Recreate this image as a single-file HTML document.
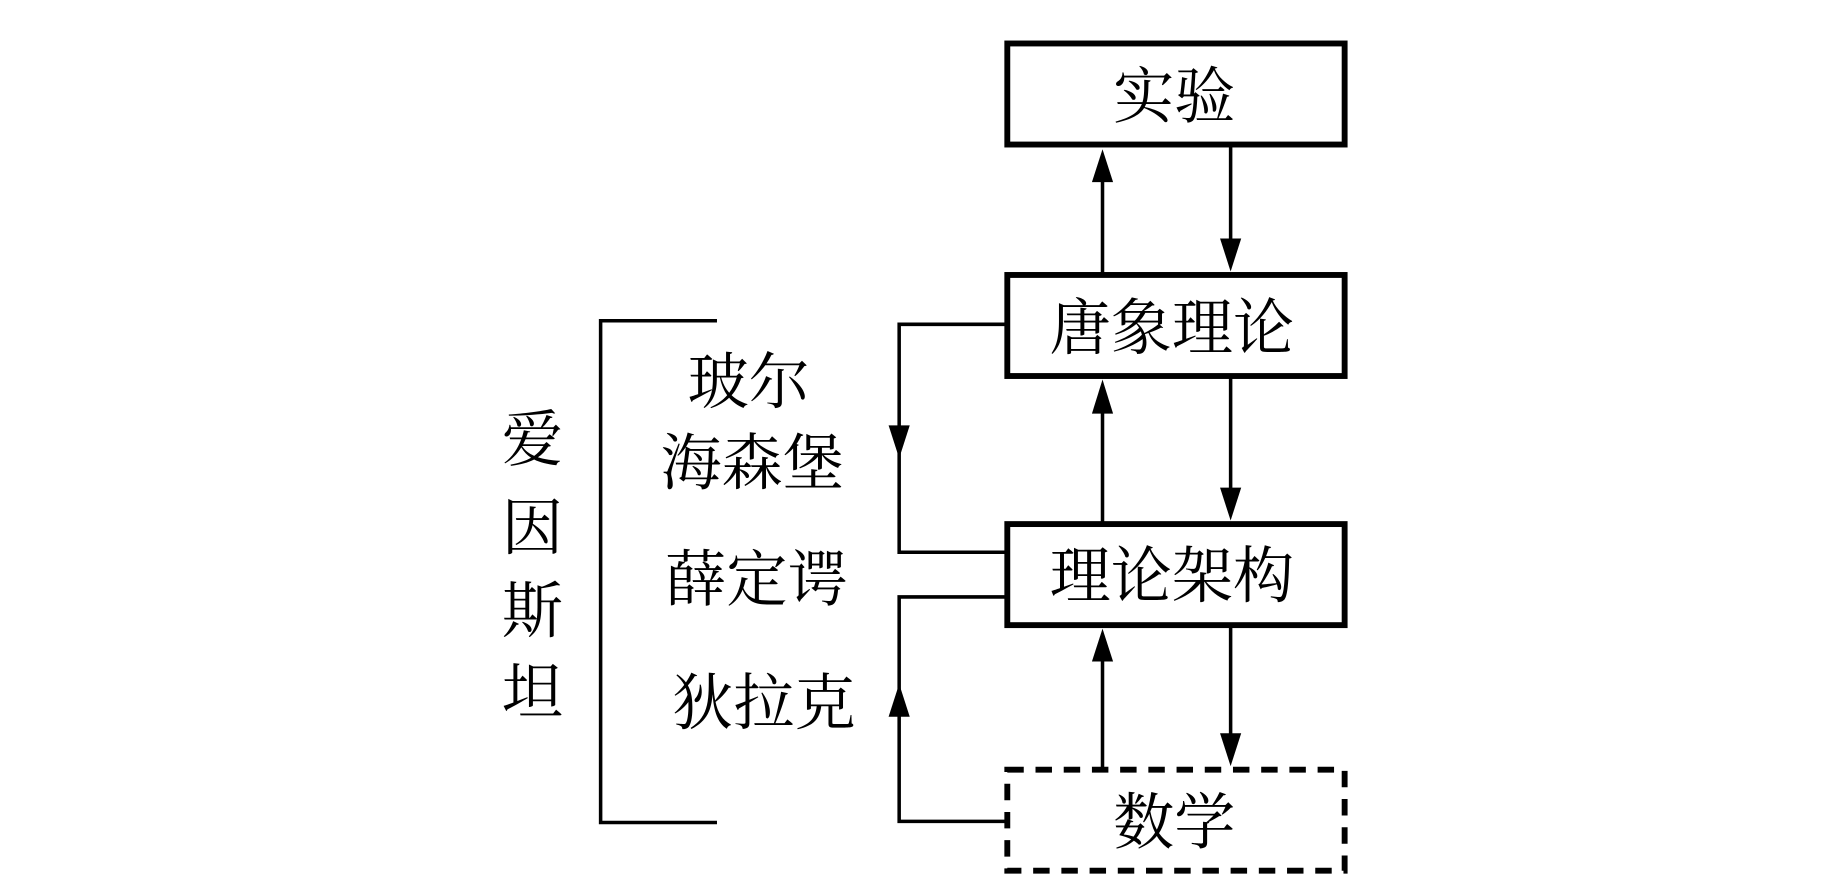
<!DOCTYPE html>
<html><head><meta charset="utf-8"><style>
html,body{margin:0;padding:0;background:#fff;}
svg{display:block;}
text{font-family:"Liberation Serif","Noto Serif CJK SC",serif;fill:#000;}
</style></head><body>
<svg width="1843" height="886" viewBox="0 0 1568 754" preserveAspectRatio="none" xmlns="http://www.w3.org/2000/svg">
<rect x="0" y="0" width="1568" height="754" fill="#fff"/>
<g fill="none" stroke="#000">
<rect x="857" y="37" width="287" height="86" stroke-width="5"/>
<rect x="857" y="234" width="287" height="86" stroke-width="5"/>
<rect x="857" y="446" width="287" height="86" stroke-width="5"/>
<rect x="857" y="655" width="287" height="86" stroke-width="5" stroke-dasharray="14,10"/>
<g stroke-width="3">
<line x1="938" y1="234" x2="938" y2="150"/>
<line x1="1047" y1="125" x2="1047" y2="210"/>
<line x1="938" y1="446" x2="938" y2="348"/>
<line x1="1047" y1="322" x2="1047" y2="420"/>
<line x1="938" y1="655" x2="938" y2="558"/>
<line x1="1047" y1="534" x2="1047" y2="630"/>
<polyline points="855,276 765,276 765,470 855,470"/>
<polyline points="855,508 765,508 765,699 855,699"/>
<polyline points="610,273 511,273 511,700 610,700"/>
</g>
</g>
<g fill="#000">
<polygon points="938,127 929,155 947,155"/>
<polygon points="1047,231 1038,203 1056,203"/>
<polygon points="938,323 929,352 947,352"/>
<polygon points="1047,443 1038,415 1056,415"/>
<polygon points="938,535 929,563 947,563"/>
<polygon points="1047,652 1038,624 1056,624"/>
<polygon points="765,390 756,362 774,362"/>
<polygon points="765,582 756,610 774,610"/>
</g>
<g font-size="52" text-anchor="middle">
<text x="999" y="100">实验</text>
<text x="997" y="297">唐象理论</text>
<text x="997" y="508">理论架构</text>
<text x="999" y="718">数学</text>
<text x="637" y="343">玻尔</text>
<text x="640" y="412">海森堡</text>
<text x="644" y="511">薛定谔</text>
<text x="650" y="616">狄拉克</text>
<text x="453" y="392">爱</text>
<text x="453" y="467">因</text>
<text x="453" y="538">斯</text>
<text x="453" y="607">坦</text>
</g>
</svg>
</body></html>
